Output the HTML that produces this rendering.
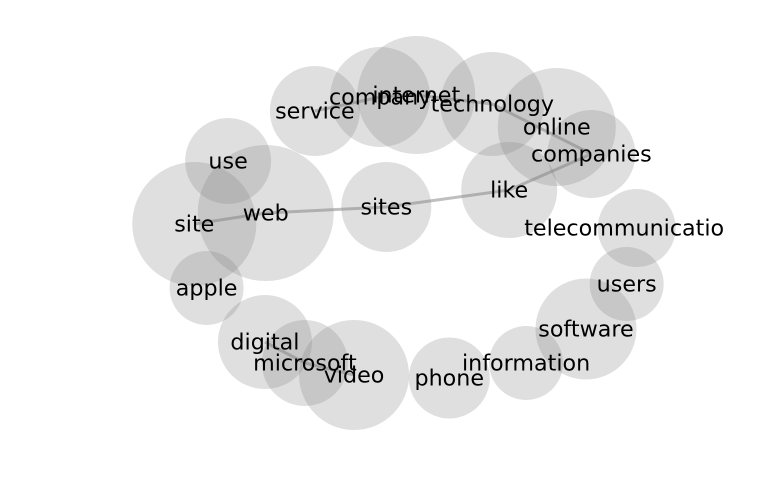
<!DOCTYPE html>
<html>
<head>
<meta charset="utf-8">
<title>Word network</title>
<style>
html,body{margin:0;padding:0;background:#fff;width:768px;height:500px;overflow:hidden}
svg{display:block}
text{font-family:"DejaVu Sans","Liberation Sans",sans-serif;font-size:22.22px;fill:#000;text-anchor:middle}
</style>
</head>
<body>
<svg id="chart" width="768" height="500" viewBox="0 0 768 500" xmlns="http://www.w3.org/2000/svg">
<g id="edges"></g>
<g id="nodes"></g>
<g id="labels"></g>
</svg>
<script>
const words = ["service","company","internet","technology","online","companies","like","sites","web","use","site","apple","digital","microsoft","video","phone","information","software","users","telecommunicatio"];
const xValues = [41.0,49.5,54.2,64.1,72.5,77.0,66.3,50.3,34.6,29.7,25.3,26.9,34.5,39.7,46.1,58.5,68.5,76.3,81.6,82.9];
const yValues = [77.8,80.6,81.0,79.2,74.6,69.2,62.0,58.6,57.4,67.8,55.2,42.4,31.6,27.4,25.0,24.4,27.4,34.2,43.2,54.4];
const weights = [2025,2500,3481,2704,3481,1936,2304,2025,4624,1849,3844,1369,2209,1849,3025,1640,1369,2550,1369,1521];
const edgeFrom = ["service","company","internet","technology","companies","like","sites","web","digital","microsoft"];
const edgeTo = ["company","internet","technology","companies","like","sites","web","site","microsoft","video"];

const xScale = v => v / 100 * 768;
const yScale = v => 500 - v / 100 * 500;
const rScale = w => Math.sqrt(w);
const NS = "http://www.w3.org/2000/svg";
const edgeLayer = document.getElementById("edges");
const nodeLayer = document.getElementById("nodes");
const labelLayer = document.getElementById("labels");

edgeFrom.forEach((from, i) => {
  const a = words.indexOf(from);
  const b = words.indexOf(edgeTo[i]);
  const line = document.createElementNS(NS, "line");
  
  
  line.setAttribute("x1", xScale(xValues[a]));
  line.setAttribute("y1", yScale(yValues[a]));
  line.setAttribute("x2", xScale(xValues[b]));
  line.setAttribute("y2", yScale(yValues[b]));
  line.setAttribute("stroke", "#808080");
  line.setAttribute("stroke-opacity", "0.5");
  line.setAttribute("stroke-width", "3");
  edgeLayer.appendChild(line);
});

words.forEach((word, i) => {
  const c = document.createElementNS(NS, "circle");
  
  
  c.setAttribute("cx", xScale(xValues[i]));
  c.setAttribute("cy", yScale(yValues[i]));
  c.setAttribute("r", rScale(weights[i]));
  c.setAttribute("fill", "#808080");
  c.setAttribute("fill-opacity", "0.25");
  nodeLayer.appendChild(c);

  const t = document.createElementNS(NS, "text");
  
  
  t.setAttribute("x", xScale(xValues[i]) - (word === "telecommunicatio" ? 12.5 : 0));
  t.setAttribute("y", yScale(yValues[i]) + 7.5);
  t.textContent = word;
  labelLayer.appendChild(t);
});
</script>
</body>
</html>
